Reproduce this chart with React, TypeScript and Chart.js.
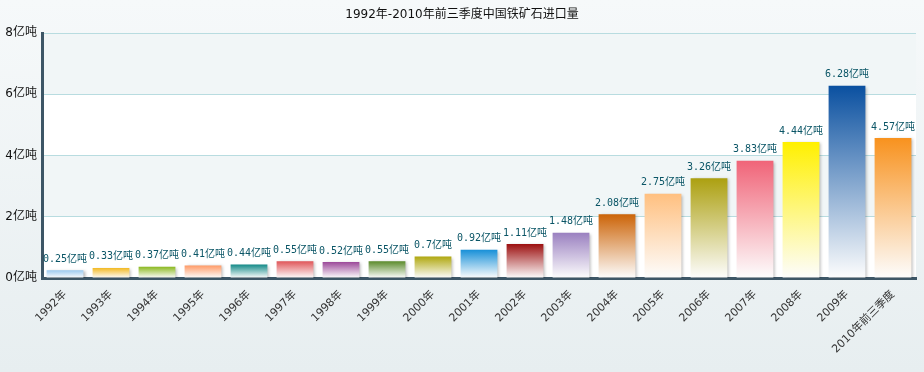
import React, { useEffect, useRef } from "react";
import { Chart, registerables } from "chart.js";

Chart.register(...registerables);

const TITLE = "1992年-2010年前三季度中国铁矿石进口量";
const categories = ["1992年","1993年","1994年","1995年","1996年","1997年","1998年","1999年","2000年","2001年","2002年","2003年","2004年","2005年","2006年","2007年","2008年","2009年","2010年前三季度"];
const values = [0.25,0.33,0.37,0.41,0.44,0.55,0.52,0.55,0.7,0.92,1.11,1.48,2.08,2.75,3.26,3.83,4.44,6.28,4.57];
const valueLabels = ["0.25亿吨","0.33亿吨","0.37亿吨","0.41亿吨","0.44亿吨","0.55亿吨","0.52亿吨","0.55亿吨","0.7亿吨","0.92亿吨","1.11亿吨","1.48亿吨","2.08亿吨","2.75亿吨","3.26亿吨","3.83亿吨","4.44亿吨","6.28亿吨","4.57亿吨"];
const yTicks = [0, 2, 4, 6, 8];
const barColors = ["#9ccaf0","#f2b820","#8ab81e","#ff9a66","#138a88","#e05558","#9c4a9a","#5a8a2a","#b0a810","#1890d8","#9c1010","#9a80c0","#cc6408","#ffc080","#aca010","#f06478","#fff000","#0a50a0","#f8921e"];

export default function App() {
  const ref = useRef<HTMLCanvasElement>(null);
  useEffect(() => {
    document.body.style.margin = "0";
    const canvas = ref.current!;
    const bgPlugin = {
      id: "bg",
      beforeDraw(chart: any) {
        const { ctx, width, height, chartArea, scales } = chart;
        ctx.save();
        const g = ctx.createLinearGradient(0, 0, 0, height);
        g.addColorStop(0, "#f6f9fa");
        g.addColorStop(1, "#e7eef0");
        ctx.fillStyle = g;
        ctx.fillRect(0, 0, width, height);
        const y = scales.y;
        for (let i = 0; i < yTicks.length - 1; i++) {
          const top = y.getPixelForValue(yTicks[i + 1]);
          const bot = y.getPixelForValue(yTicks[i]);
          ctx.fillStyle = i % 2 === 0 ? "#ffffff" : "#f1f6f7";
          ctx.fillRect(chartArea.left, top, chartArea.right - chartArea.left, bot - top);
        }
        ctx.fillStyle = "#111";
        ctx.font = "12px 'DejaVu Sans', 'Noto Sans CJK SC', sans-serif";
        ctx.textAlign = "center";
        ctx.textBaseline = "middle";
        ctx.fillText(TITLE, width / 2, 15);
        ctx.restore();
      },
    };
    const shadowPlugin = {
      id: "shadow",
      beforeDatasetsDraw(chart: any) {
        const ctx = chart.ctx;
        ctx.save();
        ctx.shadowColor = "rgba(0,0,0,0.28)";
        ctx.shadowBlur = 3;
        ctx.shadowOffsetX = 2;
        ctx.shadowOffsetY = 1;
      },
      afterDatasetsDraw(chart: any) {
        chart.ctx.restore();
        const ctx = chart.ctx;
        const meta = chart.getDatasetMeta(0);
        ctx.save();
        ctx.fillStyle = "#0a5566";
        ctx.font = "10px 'DejaVu Sans Mono', 'Noto Sans CJK SC', monospace";
        ctx.textAlign = "center";
        ctx.textBaseline = "bottom";
        meta.data.forEach((bar: any, i: number) => {
          ctx.fillText(valueLabels[i], bar.x, bar.y - 6);
        });
        ctx.restore();
      },
    };
    const chart = new Chart(canvas, {
      type: "bar",
      data: {
        labels: categories,
        datasets: [
          {
            data: values,
            barPercentage: 0.8,
            categoryPercentage: 1,
            borderWidth: 0,
            backgroundColor: (c: any) => {
              const chartObj = c.chart;
              const area = chartObj.chartArea;
              if (!area || c.dataIndex === undefined) return barColors[0];
              const yScale = chartObj.scales.y;
              const top = yScale ? yScale.getPixelForValue(values[c.dataIndex]) : area.top;
              const bottom = area.bottom;
              const g = chartObj.ctx.createLinearGradient(0, top, 0, bottom);
              g.addColorStop(0, barColors[c.dataIndex]);
              g.addColorStop(1, "#fdfdfd");
              return g;
            },
          },
        ],
      },
      options: {
        animation: false,
        responsive: false,
        layout: { padding: { left: 0, top: 33, right: 8, bottom: 0 } },
        plugins: { legend: { display: false }, tooltip: { enabled: false }, title: { display: false } },
        scales: {
          x: {
            grid: { display: false },
            border: { color: "#3d5666", width: 3 },
            ticks: {
              autoSkip: false,
              maxRotation: 45,
              minRotation: 45,
              color: "#333",
              padding: 2,
              font: { size: 11, family: "'DejaVu Sans', 'Noto Sans CJK SC', sans-serif" },
            },
            afterFit(s: any) { s.height = 94; },
          },
          y: {
            min: 0,
            max: 8,
            afterBuildTicks(s: any) { s.ticks = yTicks.map((v) => ({ value: v })); },
            grid: { color: "#b8dce0", drawTicks: false },
            border: { color: "#3d5666", width: 3 },
            ticks: {
              color: "#111",
              padding: 5,
              font: { size: 12, family: "'DejaVu Sans', 'Noto Sans CJK SC', sans-serif" },
              callback: (v: any) => v + "亿吨",
            },
            afterFit(s: any) { s.width = 42; },
          },
        },
      },
      plugins: [bgPlugin, shadowPlugin],
    });
    return () => chart.destroy();
  }, []);
  return <canvas ref={ref} width={924} height={372} style={{ display: "block" }} />;
}
